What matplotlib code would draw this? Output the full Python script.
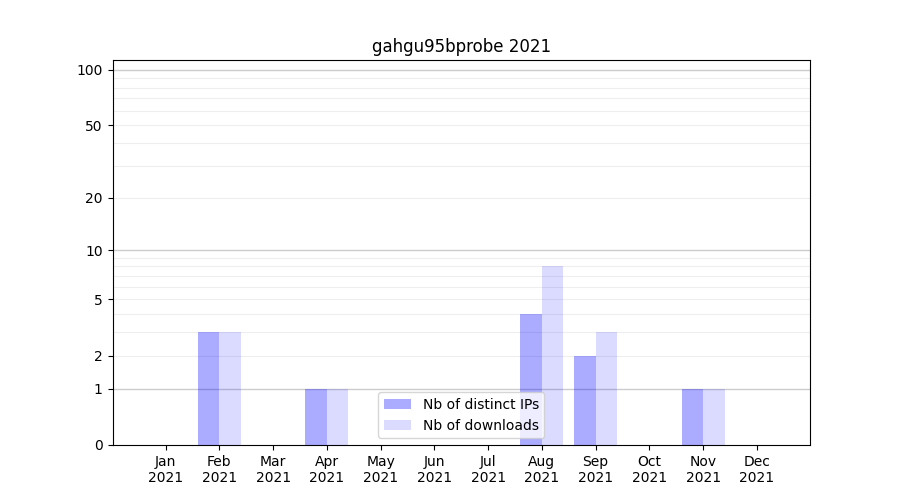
# libraries
import matplotlib
matplotlib.use('Agg')
import matplotlib.pyplot as plt
import numpy as np
from matplotlib.ticker import FixedLocator, FixedFormatter

# data
months = ['Jan', 'Feb', 'Mar', 'Apr', 'May', 'Jun', 'Jul', 'Aug', 'Sep', 'Oct', 'Nov', 'Dec']
year = '2021'
distinct_ips = [0, 3, 0, 1, 0, 0, 0, 4, 2, 0, 1, 0]
downloads = [0, 3, 0, 1, 0, 0, 0, 8, 3, 0, 1, 0]

ytick_values = [0, 1, 2, 5, 10, 20, 50, 100]
yminor_values = [3, 4, 6, 7, 8, 9, 30, 40, 60, 70, 80, 90]

barWidth = 0.4
r = np.arange(len(months))

fig, ax = plt.subplots(figsize=(9, 5), dpi=100)

# log(1 + x) scale
ax.set_yscale('function', functions=(lambda y: np.log10(1 + np.clip(y, 0, None)),
                                     lambda y: 10 ** y - 1))

ax.bar(r - barWidth / 2, distinct_ips, width=barWidth, color='blue', alpha=0.33,
       label='Nb of distinct IPs')
ax.bar(r + barWidth / 2, downloads, width=barWidth, color='blue', alpha=0.14,
       label='Nb of downloads')

ax.set_ylim(0, 113)

ax.yaxis.set_major_locator(FixedLocator(ytick_values))
ax.yaxis.set_major_formatter(FixedFormatter([str(v) for v in ytick_values]))
ax.yaxis.set_minor_locator(FixedLocator(yminor_values))
ax.tick_params(axis='y', which='minor', length=0)

# grid: stronger at decades, faint elsewhere
for v in [1, 10, 100]:
    ax.axhline(v, color='#cccccc', linewidth=1, zorder=0.5)
for v in [2, 3, 4, 5, 6, 7, 8, 9, 20, 30, 40, 50, 60, 70, 80, 90]:
    ax.axhline(v, color='#eeeeee', linewidth=0.8, zorder=0.5)

ax.set_xticks(r)
ax.set_xticklabels([m + '\n' + year for m in months])

ax.set_title('gahgu95bprobe ' + year)
ax.legend(loc='lower center')

plt.savefig('out.png')
